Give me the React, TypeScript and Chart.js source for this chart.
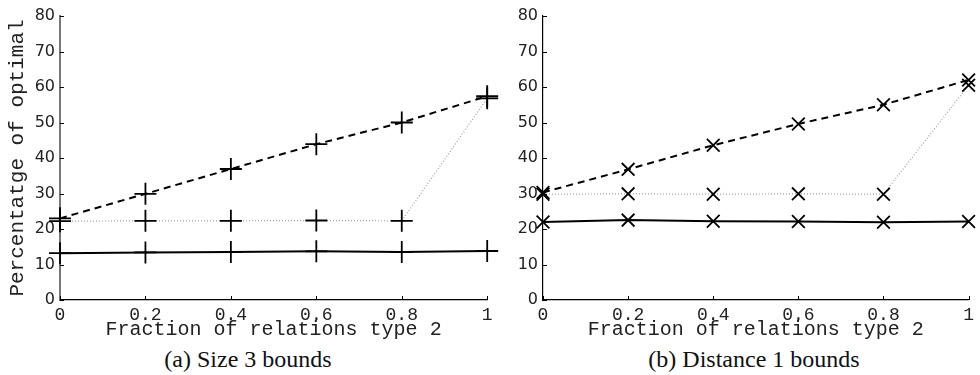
import React, { useEffect, useRef } from "react";
import { Chart, registerables } from "chart.js";

Chart.register(...registerables);

const xValues = [0, 0.2, 0.4, 0.6, 0.8, 1];
const xTickValues = [0, 0.2, 0.4, 0.6, 0.8, 1];
const yTickValues = [0, 10, 20, 30, 40, 50, 60, 70, 80];

// (a) Size 3 bounds
const sizeDashed = [23.0, 29.9, 36.9, 43.9, 50.0, 57.4];
const sizeDotted = [22.2, 22.3, 22.3, 22.4, 22.3, 56.8];
const sizeSolid = [13.2, 13.4, 13.5, 13.7, 13.5, 13.8];

// (b) Distance 1 bounds
const distDashed = [30.3, 36.8, 43.6, 49.6, 55.0, 62.0];
const distDotted = [29.8, 29.9, 29.8, 29.9, 29.8, 60.5];
const distSolid = [22.0, 22.5, 22.2, 22.1, 21.9, 22.1];

const xTitle = "Fraction of relations type 2";
const yTitle = "Percentatge of optimal";
const captions = ["(a) Size 3 bounds", "(b) Distance 1 bounds"];

const fmt = (v: number) => {
  const r = Math.round(v * 10) / 10;
  return r === 0 ? "0" : r === 1 ? "1" : String(r);
};

const inwardTicks = {
  id: "inwardTicks",
  afterDraw(chart: any) {
    const ctx = chart.ctx;
    const x = chart.scales.x;
    const y = chart.scales.y;
    const area = chart.chartArea;
    ctx.save();
    ctx.strokeStyle = "#000";
    ctx.lineWidth = 1;
    ctx.beginPath();
    yTickValues.forEach((v) => {
      const py = Math.round(y.getPixelForValue(v)) + 0.5;
      ctx.moveTo(area.left, py);
      ctx.lineTo(area.left + 4, py);
    });
    xTickValues.forEach((v) => {
      const px = Math.round(x.getPixelForValue(v)) + 0.5;
      ctx.moveTo(px, area.bottom);
      ctx.lineTo(px, area.bottom - 4);
    });
    ctx.stroke();
    ctx.restore();
  },
};

function makeDatasets(dashed: number[], dotted: number[], solid: number[], style: string, radius: number) {
  const pts = (arr: number[]) => arr.map((v, i) => ({ x: xValues[i], y: v }));
  const common = {
    pointStyle: style,
    pointRadius: radius,
    pointBorderColor: "#000",
    pointBorderWidth: 1.8,
    pointBackgroundColor: "#000",
    fill: false,
    tension: 0,
    clip: false as any,
  };
  return [
    { ...common, data: pts(dotted), borderColor: "#a0a0a0", borderWidth: 1.2, borderDash: [1, 2] },
    { ...common, data: pts(dashed), borderColor: "#000", borderWidth: 2, borderDash: [7, 5] },
    { ...common, data: pts(solid), borderColor: "#000", borderWidth: 2 },
  ];
}

function Panel(props: {
  width: number;
  height: number;
  yWidth: number;
  padRight: number;
  showYTitle: boolean;
  yBorderColor: string;
  yBorderWidth: number;
  dashed: number[];
  dotted: number[];
  solid: number[];
  style: string;
  radius: number;
}) {
  const ref = useRef<HTMLCanvasElement | null>(null);
  useEffect(() => {
    if (!ref.current) return;
    const chart = new Chart(ref.current, {
      type: "line",
      data: { datasets: makeDatasets(props.dashed, props.dotted, props.solid, props.style, props.radius) as any },
      options: {
        responsive: false,
        animation: false,
        layout: { padding: { left: 0, right: props.padRight, top: 16, bottom: 0 } },
        plugins: { legend: { display: false }, tooltip: { enabled: false } },
        scales: {
          x: {
            type: "linear",
            min: 0,
            max: 1,
            afterBuildTicks: (s: any) => {
              s.ticks = xTickValues.map((v) => ({ value: v }));
            },
            ticks: {
              callback: (v: any) => fmt(Number(v)),
              font: { family: "Liberation Mono", size: 18, lineHeight: 1 },
              color: "#222",
              padding: 6,
              maxRotation: 0,
              autoSkip: false,
            },
            grid: { display: false, drawTicks: false },
            border: { display: true, color: "#000", width: 1.2 },
            title: {
              display: true,
              text: xTitle,
              font: { family: "Liberation Mono", size: 20, lineHeight: 1 },
              color: "#222",
              padding: { top: 0, bottom: 0 },
            },
            afterFit: (s: any) => {
              s.height = 40;
            },
          },
          y: {
            type: "linear",
            min: 0,
            max: 80,
            afterBuildTicks: (s: any) => {
              s.ticks = yTickValues.map((v) => ({ value: v }));
            },
            ticks: {
              font: { family: "DejaVu Sans", size: 16, lineHeight: 1 },
              color: "#222",
              padding: 5,
              autoSkip: false,
            },
            grid: { display: false, drawTicks: false },
            border: { display: true, color: props.yBorderColor, width: props.yBorderWidth },
            title: {
              display: props.showYTitle,
              text: yTitle,
              font: { family: "Liberation Mono", size: 21, lineHeight: 1 },
              color: "#222",
              padding: { top: 7, bottom: 0 },
            },
            afterFit: (s: any) => {
              s.width = props.yWidth;
            },
          },
        },
      },
      plugins: [inwardTicks],
    });
    return () => chart.destroy();
  }, []);
  return <canvas ref={ref} width={props.width} height={props.height} />;
}

const captionStyle = (center: number): React.CSSProperties => ({
  position: "absolute",
  top: 347,
  left: center - 200,
  width: 400,
  textAlign: "center",
  fontFamily: "Liberation Serif",
  fontSize: 24,
  lineHeight: "24px",
  whiteSpace: "nowrap",
  color: "#111",
});

export default function App() {
  return (
    <div style={{ position: "absolute", left: 0, top: 0, width: 980, height: 375, background: "#fff", overflow: "hidden" }}>
      <div style={{ position: "absolute", left: 0, top: 0 }}>
        <Panel
          width={500}
          height={340}
          yWidth={60}
          padRight={10}
          showYTitle={true}
          yBorderColor="#777"
          yBorderWidth={2}
          dashed={sizeDashed}
          dotted={sizeDotted}
          solid={sizeSolid}
          style="cross"
          radius={11}
        />
      </div>
      <div style={{ position: "absolute", left: 500, top: 0 }}>
        <Panel
          width={480}
          height={340}
          yWidth={43}
          padRight={6}
          showYTitle={false}
          yBorderColor="#000"
          yBorderWidth={1.2}
          dashed={distDashed}
          dotted={distDotted}
          solid={distSolid}
          style="crossRot"
          radius={9}
        />
      </div>
      <div style={captionStyle(248)}>{captions[0]}</div>
      <div style={captionStyle(754)}>{captions[1]}</div>
    </div>
  );
}
